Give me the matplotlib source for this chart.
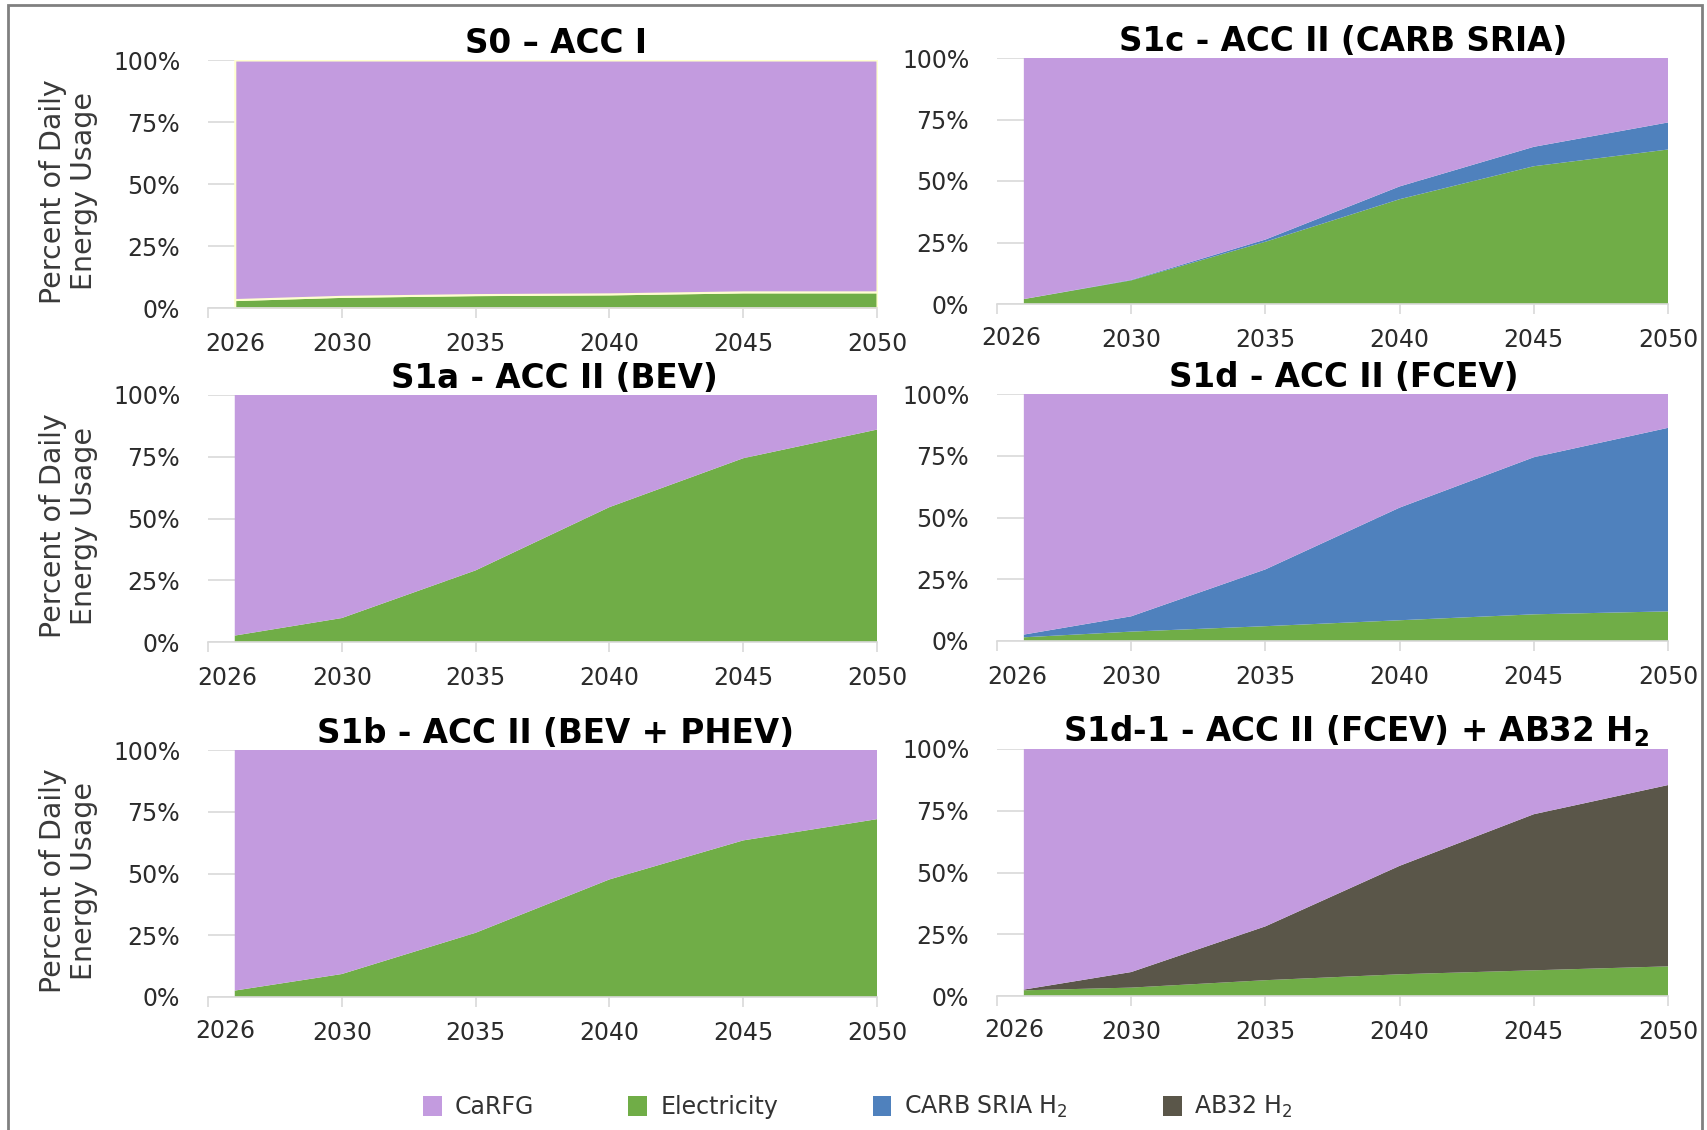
import matplotlib
matplotlib.use("Agg")
import matplotlib.pyplot as plt
from matplotlib.patches import Rectangle, Patch

# ---------------- data (percent of daily energy usage) ----------------
years = [2026, 2030, 2035, 2040, 2045, 2050]

s0_elec = [3.4, 4.7, 5.4, 5.7, 6.5, 6.5]
s0_carfg = [96.6, 95.3, 94.6, 94.3, 93.5, 93.5]

s1a_elec = [2.6, 9.7, 29.0, 54.6, 74.4, 86.0]
s1a_carfg = [97.4, 90.3, 71.0, 45.4, 25.6, 14.0]

s1b_elec = [2.6, 9.3, 26.0, 47.6, 63.4, 72.0]
s1b_carfg = [97.4, 90.7, 74.0, 52.4, 36.6, 28.0]

s1c_elec = [2.0, 9.6, 25.3, 42.6, 56.0, 62.8]
s1c_sria = [0.0, 0.2, 0.9, 5.2, 7.9, 11.0]
s1c_carfg = [98.0, 90.2, 73.8, 52.2, 36.1, 26.2]

s1d_elec = [1.5, 3.8, 6.0, 8.4, 10.8, 12.0]
s1d_sria = [1.1, 6.2, 23.0, 45.6, 63.6, 74.3]
s1d_carfg = [97.4, 90.0, 71.0, 46.0, 25.6, 13.7]

s1d1_elec = [2.3, 3.4, 6.4, 8.8, 10.4, 12.0]
s1d1_ab32 = [0.3, 6.3, 21.8, 43.9, 63.2, 73.4]
s1d1_carfg = [97.4, 90.3, 71.8, 47.3, 26.4, 14.6]

titles = ["S0 \u2013 ACC I", "S1a - ACC II (BEV)", "S1b - ACC II (BEV + PHEV)",
          "S1c - ACC II (CARB SRIA)", "S1d - ACC II (FCEV)",
          r"S1d-1 - ACC II (FCEV) + AB32 H$_\mathbf{2}$"]
legend_labels = ["CaRFG", "Electricity", r"CARB SRIA H$_2$", r"AB32 H$_2$"]
x_ticks = [2025, 2030, 2035, 2040, 2045, 2050]
x_tick_labels = ["", "2030", "2035", "2040", "2045", "2050"]
first_label = "2026"
y_ticks = [0, 25, 50, 75, 100]
y_tick_labels = ["0%", "25%", "50%", "75%", "100%"]

# ---------------- style ----------------
C_CARFG = "#C39BDF"
C_ELEC = "#70AD47"
C_SRIA = "#4F81BD"
C_AB32 = "#5A5649"
GRID = "#D9D9D9"
TXT = "#2b2b2b"

W, H = 1707, 1130
fig = plt.figure(figsize=(W / 100, H / 100), dpi=100)
fig.patch.set_facecolor("white")


def rect(x0, y_top, x1, y_bot):
    return [x0 / W, 1 - y_bot / H, (x1 - x0) / W, (y_bot - y_top) / H]


layout = [
    rect(208, 60, 877, 308),
    rect(208, 395, 877, 642),
    rect(208, 750, 877, 997),
    rect(997, 58, 1668, 304),
    rect(997, 394, 1668, 641),
    rect(997, 749, 1668, 996),
]

panels = [
    ([s0_elec, s0_carfg], [C_ELEC, C_CARFG]),
    ([s1a_elec, s1a_carfg], [C_ELEC, C_CARFG]),
    ([s1b_elec, s1b_carfg], [C_ELEC, C_CARFG]),
    ([s1c_elec, s1c_sria, s1c_carfg], [C_ELEC, C_SRIA, C_CARFG]),
    ([s1d_elec, s1d_sria, s1d_carfg], [C_ELEC, C_SRIA, C_CARFG]),
    ([s1d1_elec, s1d1_ab32, s1d1_carfg], [C_ELEC, C_AB32, C_CARFG]),
]

title_x = [0.52, 0.518, 0.519, 0.516, 0.517, 0.535]
# placement of the first ("2026") x label, and its pad, per panel
first_label_pos = [2026.0, 2025.73, 2025.65, 2025.54, 2025.74, 2025.66]
first_label_pad = [17.5, 17.5, 15.5, 15.5, 17.5, 15.5]

for i, (pos, (series, cols)) in enumerate(zip(layout, panels)):
    ax = fig.add_axes(pos)
    if i == 0:
        ax.stackplot(years, *series, colors=cols, edgecolor="#FFFFD0", linewidth=1.5)
    else:
        ax.stackplot(years, *series, colors=cols, linewidth=0)
    ax.set_xlim(2025, 2050)
    ax.set_ylim(0, 100)
    ax.set_axisbelow(True)
    ax.grid(axis="y", color=GRID, linewidth=1.2)
    for s in ["top", "right", "left"]:
        ax.spines[s].set_visible(False)
    ax.spines["bottom"].set_color(GRID)
    ax.spines["bottom"].set_linewidth(1.2)
    ax.set_yticks(y_ticks, labels=y_tick_labels)
    ax.tick_params(axis="y", length=0, pad=20, labelsize=17, labelcolor=TXT)
    ax.set_xticks(x_ticks, labels=x_tick_labels)
    ax.set_xticks([first_label_pos[i]], labels=[first_label], minor=True)
    ax.tick_params(axis="x", which="major", length=7, width=1.2, color=GRID,
                   pad=10.5, labelsize=17, labelcolor=TXT)
    ax.tick_params(axis="x", which="minor", length=0, pad=first_label_pad[i],
                   labelsize=17, labelcolor=TXT)
    ax.set_title(titles[i], x=title_x[i], pad=4, fontsize=23.5, fontweight="bold",
                 color="black")
    if i < 3:
        ax.set_ylabel("Percent of Daily\nEnergy Usage", fontsize=20.5, color="#3a3a3a",
                      linespacing=1.1)
        ax.yaxis.set_label_coords(-0.165, 0.47)

handles = [Patch(facecolor=c, edgecolor="none") for c in [C_CARFG, C_ELEC, C_SRIA, C_AB32]]
fig.legend(handles, legend_labels, loc="center", bbox_to_anchor=(858 / W, 1 - 1107 / H),
           ncol=4, frameon=False, fontsize=17, labelcolor="#333333",
           handlelength=0.8, handleheight=0.95, handletextpad=0.55, columnspacing=4.0)

fig.add_artist(Rectangle((8 / W, -0.05), (1702 - 8) / W, 1.05 - 5 / H,
                         transform=fig.transFigure, fill=False,
                         edgecolor="#808080", linewidth=2))

fig.savefig("out.png", dpi=100)
